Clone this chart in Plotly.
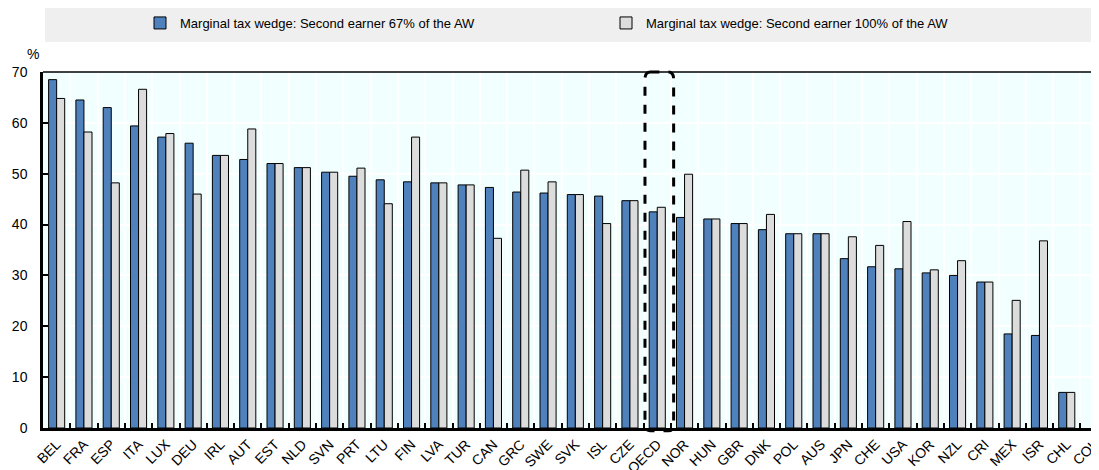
import plotly.graph_objects as go

countries = ["BEL", "FRA", "ESP", "ITA", "LUX", "DEU", "IRL", "AUT", "EST", "NLD",
             "SVN", "PRT", "LTU", "FIN", "LVA", "TUR", "CAN", "GRC", "SWE", "SVK",
             "ISL", "CZE", "OECD", "NOR", "HUN", "GBR", "DNK", "POL", "AUS", "JPN",
             "CHE", "USA", "KOR", "NZL", "CRI", "MEX", "ISR", "CHL", "COL"]

wedge_67 = [68.5, 64.5, 63.0, 59.4, 57.2, 56.0, 53.6, 52.8, 52.0, 51.2,
            50.3, 49.5, 48.8, 48.4, 48.2, 47.8, 47.3, 46.4, 46.2, 45.9,
            45.6, 44.7, 42.5, 41.4, 41.1, 40.2, 39.0, 38.2, 38.2, 33.3,
            31.7, 31.3, 30.5, 30.0, 28.7, 18.5, 18.2, 7.0, None]

wedge_100 = [64.8, 58.2, 48.2, 66.6, 57.9, 46.0, 53.6, 58.8, 52.0, 51.2,
             50.3, 51.1, 44.1, 57.2, 48.2, 47.8, 37.3, 50.7, 48.4, 45.9,
             40.2, 44.7, 43.4, 49.9, 41.1, 40.2, 42.0, 38.2, 38.2, 37.6,
             35.9, 40.6, 31.1, 32.9, 28.7, 25.1, 36.8, 7.0, None]

series_names = ["Marginal tax wedge: Second earner 67% of the AW",
                "Marginal tax wedge: Second earner 100% of the AW"]
highlight = "OECD"

FONT = "Liberation Sans, Arial, sans-serif"

fig = go.Figure()
fig.add_trace(go.Bar(x=countries, y=wedge_67, name=series_names[0],
                     marker=dict(color="#4F81BD", line=dict(color="#000000", width=1))))
fig.add_trace(go.Bar(x=countries, y=wedge_100, name=series_names[1],
                     marker=dict(color="#DCDCDC", line=dict(color="#000000", width=1))))

# page body has an 8px default margin: work in figure coordinates (screen - 8)
OFF = 8
W, H = 1099 - OFF, 470 - OFF
L, R, T = 43 - OFF, 0, 72 - OFF
B = H - (428.5 - OFF)
px_per_cat = 27.3
plot_w = W - L - R
plot_h = H - T - B
x_max = -0.5 + plot_w / px_per_cat


def px_x(sx):  # screen x -> paper x
    return (sx - OFF - L) / plot_w


def px_y(sy):  # screen y -> paper y
    return 1 + (T - (sy - OFF)) / plot_h


# legend background band
fig.add_shape(type="rect", xref="paper", yref="paper",
              x0=px_x(45), x1=1.0, y0=px_y(42), y1=px_y(5),
              fillcolor="#EFEFEF", line=dict(width=0), layer="below")

# top frame line
fig.add_shape(type="line", xref="paper", yref="paper", x0=0, x1=1, y0=1, y1=1,
              line=dict(color="#000000", width=1.5))

# dashed rounded highlight around OECD
i = countries.index(highlight)
x0, x1 = i - 0.45, i + 0.6
y0, y1 = -0.008, 1.0
rx, ry = 0.2, 0.02
path = (f"M {x0+rx},{y1} L {x1-rx},{y1} Q {x1},{y1} {x1},{y1-ry} "
        f"L {x1},{y0+ry} Q {x1},{y0} {x1-rx},{y0} L {x0+rx},{y0} "
        f"Q {x0},{y0} {x0},{y0+ry} L {x0},{y1-ry} Q {x0},{y1} {x0+rx},{y1} Z")
fig.add_shape(type="path", xref="x", yref="paper", path=path,
              line=dict(color="#000000", width=3, dash="dash"))

fig.add_annotation(text="%", xref="paper", yref="paper", x=px_x(33),
                   y=px_y(54), xanchor="center", yanchor="middle", showarrow=False,
                   font=dict(size=14, color="#000000", family=FONT))

fig.update_layout(
    width=W, height=H,
    margin=dict(l=L, r=R, t=T, b=B, autoexpand=False),
    paper_bgcolor="#FFFFFF",
    plot_bgcolor="#F2FFFF",
    barmode="group", bargap=0.41, bargroupgap=0.0,
    font=dict(family=FONT, size=13, color="#000000"),
    showlegend=True,
    legend=dict(orientation="h", xref="container", yref="container",
                x=(140 - OFF) / W, xanchor="left", y=1 - (23 - OFF) / H,
                yanchor="middle",
                bgcolor="rgba(0,0,0,0)", entrywidth=421, entrywidthmode="pixels",
                font=dict(size=13, family=FONT), traceorder="normal"),
    xaxis=dict(range=[-0.5, x_max], tickangle=-45, tickson="boundaries",
               ticks="inside", ticklen=5, tickcolor="#000000", tickwidth=1.5,
               showline=True, linecolor="#000000", linewidth=2.5,
               showgrid=True, gridcolor="#FFFFFF", gridwidth=1.5,
               automargin=False, tickfont=dict(size=14, family=FONT)),
    yaxis=dict(range=[0, 70], dtick=10, ticks="inside", ticklen=5,
               tickcolor="#000000", tickwidth=1.5, ticklabelstandoff=10,
               showline=True, linecolor="#000000", linewidth=2.5,
               showgrid=True, gridcolor="#FFFFFF", gridwidth=1.5, zeroline=False,
               automargin=False, tickfont=dict(size=14, family=FONT)),
)

fig.write_html("out.html")
